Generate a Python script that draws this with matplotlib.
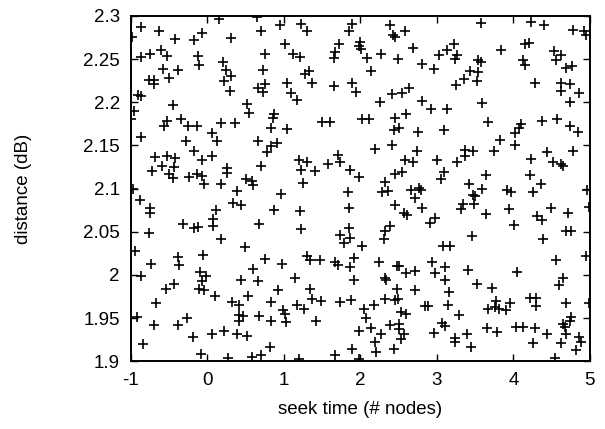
import matplotlib
matplotlib.use("Agg")
import matplotlib.pyplot as plt

plt.rcParams['font.family'] = ['Liberation Sans', 'DejaVu Sans']

seek_time = [
    # top band
    0.146, 0.643, -0.869, -0.629, -0.987, -0.424, -0.072, -0.180, 0.312, 0.700, 0.952,
    -0.869, -0.751, -0.607, -0.533, -0.128, -0.106, 0.199, 0.756, -0.577, -0.390, 0.242,
    -0.499, 0.308, 0.220, 0.721, -0.760, -0.695, -0.695, 0.294, 0.656, 0.756, 0.721,
    -0.908, -0.865,
    1.222, 1.301, 1.889, 1.845, 2.381, 2.425, 2.455, 2.586, 1.009, 1.118, 1.214, 1.723,
    1.671, 1.649, 1.989, 1.976, 2.011, 2.085, 2.272, 2.490, 2.682, 3.022, 2.804, 2.961,
    2.137, 1.270, 1.323, 1.035, 1.366, 1.658, 1.889, 1.941, 1.092, 2.412, 2.543, 2.630,
    3.579, 4.224, 4.399, 4.778, 4.917, 4.952, 3.135, 3.222, 3.261, 3.231, 3.832, 3.536,
    3.571, 3.436, 3.536, 4.155, 4.202, 4.124, 4.155, 4.529, 4.616, 4.560, 4.682, 4.769,
    3.353, 3.253, 3.523, 4.277, 4.616, 4.616, 4.743, 4.852,
    # second band
    -0.455, -0.956, -1.000, -0.869, -0.529, -0.564, -0.346, -0.250, -0.137, 0.177, 0.360,
    0.512, 0.547, 0.874, 0.852, 0.830, -0.281, -0.180, 0.059, 0.125, -0.072, 0.055, 0.656,
    0.830, 0.905, 0.778, -0.682, -0.533, -0.420, -0.594, -0.442, -0.725, -0.507, -0.455,
    -0.246, -0.137, -0.072, -0.041, 0.255, 0.255, 0.177, 0.700, 0.504, 0.582, 0.591,
    1.170, 2.259, 2.804, 2.926, 2.595, 2.447, 1.035, 1.497, 1.606, 2.020, 2.107, 2.434,
    2.499, 2.752, 2.412, 2.185, 2.739, 1.706, 1.192, 1.301, 1.575, 1.728, 2.577, 2.682,
    3.000, 1.222, 1.410, 1.859, 1.976, 2.455, 2.543, 1.244, 2.316,
    3.593, 3.135, 4.734, 3.667, 3.091, 4.094, 4.072, 4.015, 4.377, 4.573, 4.734, 4.843,
    3.819, 4.024, 3.370, 3.370, 3.471, 3.261, 3.745, 4.233, 4.438, 4.516, 4.625, 4.647,
    4.778, 3.087, 3.048, 3.645, 4.211, 3.414, 4.364,
    # third band
    -0.980, 0.382, 0.961, -0.882, -0.751, -0.751, 0.111, 0.338, 0.438, 0.874, -0.316,
    -0.172, -0.128, 0.068, 0.068, 0.678, -0.760, 0.177, 0.495, -0.943, -0.390, -0.377,
    -0.054, 0.756, -0.738, 0.591, 0.974, -0.098,
    1.837, 2.281, 2.360, 2.665, 2.761, 2.795, 2.717, 2.804, 2.455, 2.564, 2.608, 1.214,
    1.845, 2.970, 2.904, 1.222, 1.845, 1.737, 1.780, 1.867, 2.390, 2.316, 2.303, 2.020,
    1.301, 1.344, 1.475, 1.662, 1.706, 1.911, 1.867, 2.246, 2.477, 2.508, 2.717, 2.935,
    2.595, 2.970,
    3.593, 3.471, 3.501, 3.919, 3.963, 4.255, 4.965, 4.983, 3.340, 3.309, 3.484, 3.636,
    3.937, 4.311, 4.372, 4.494, 4.712, 4.006, 3.462, 3.078, 3.166, 4.386, 4.682, 4.747,
    4.952, 4.551, 3.109, 3.405, 4.050,
    # bottom band
    -0.869, -0.019, -0.072, 0.438, 0.665, -0.433, -0.542, -0.115, -0.041, 0.103, -0.673,
    0.321, 0.416, 0.525, 0.830, 0.918, -0.926, -0.695, -0.390, -0.272, 0.408, 0.460,
    0.416, 0.669, 0.830, -0.185, 0.059, 0.212, 0.386, 0.512, -0.838, 0.817, -0.085,
    0.264, 0.582, 0.700,
    1.140, 1.911, 2.325, 2.333, 1.336, 2.477, 2.708, 1.366, 1.488, 1.737, 1.880, 2.316,
    2.455, 2.486, 1.170, 1.266, 0.987, 1.018, 1.026, 2.042, 2.172, 2.848, 2.878, 2.534,
    2.599, 1.418, 2.076, 2.381, 2.508, 2.499, 1.985, 2.142, 2.272, 2.564, 2.534, 2.965,
    2.185, 2.203, 1.889, 2.434, 1.671, 1.985, 1.192,
    3.109, 3.527, 3.723, 4.647, 4.590, 3.152, 3.144, 3.288, 3.070, 3.100, 3.776, 3.762,
    3.810, 3.667, 3.906, 3.950, 4.211, 4.298, 4.298, 4.691, 4.983, 4.756, 4.734, 4.647,
    4.669, 4.691, 3.658, 3.789, 4.037, 4.124, 4.277, 3.396, 3.231, 3.231, 3.440, 4.255,
    4.442, 4.625, 4.852, 4.878, 4.821, 4.547,
]

distance = [
    # top band
    2.296, 2.299, 2.287, 2.282, 2.275, 2.273, 2.280, 2.272, 2.274, 2.282, 2.289,
    2.252, 2.256, 2.261, 2.254, 2.253, 2.243, 2.247, 2.256, 2.238, 2.237, 2.237,
    2.228, 2.230, 2.225, 2.237, 2.226, 2.226, 2.221, 2.213, 2.217, 2.221, 2.212,
    2.208, 2.207,
    2.291, 2.282, 2.291, 2.283, 2.290, 2.278, 2.276, 2.282, 2.267, 2.256, 2.252, 2.268,
    2.258, 2.251, 2.270, 2.265, 2.262, 2.251, 2.256, 2.250, 2.263, 2.255, 2.244, 2.239,
    2.236, 2.233, 2.236, 2.222, 2.222, 2.219, 2.222, 2.212, 2.211, 2.210, 2.211, 2.217,
    2.292, 2.293, 2.290, 2.284, 2.282, 2.278, 2.261, 2.267, 2.255, 2.250, 2.260, 2.249,
    2.246, 2.236, 2.235, 2.268, 2.269, 2.249, 2.243, 2.259, 2.255, 2.249, 2.240, 2.242,
    2.227, 2.220, 2.224, 2.222, 2.222, 2.213, 2.221, 2.211,
    # second band
    2.197, 2.190, 2.181, 2.160, 2.178, 2.172, 2.181, 2.172, 2.172, 2.176, 2.176,
    2.198, 2.188, 2.186, 2.182, 2.170, 2.155, 2.144, 2.164, 2.155, 2.133, 2.138, 2.155,
    2.149, 2.153, 2.142, 2.137, 2.138, 2.135, 2.126, 2.125, 2.120, 2.117, 2.112,
    2.113, 2.117, 2.115, 2.105, 2.124, 2.118, 2.105, 2.126, 2.111, 2.109, 2.104,
    2.202, 2.200, 2.201, 2.192, 2.186, 2.182, 2.169, 2.177, 2.177, 2.181, 2.181, 2.168,
    2.170, 2.165, 2.151, 2.146, 2.144, 2.139, 2.133, 2.131, 2.129, 2.131, 2.133, 2.131,
    2.133, 2.122, 2.120, 2.122, 2.113, 2.117, 2.119, 2.106, 2.108,
    2.199, 2.192, 2.200, 2.177, 2.168, 2.175, 2.170, 2.164, 2.178, 2.180, 2.173, 2.165,
    2.156, 2.151, 2.145, 2.138, 2.143, 2.131, 2.143, 2.134, 2.142, 2.131, 2.128, 2.126,
    2.144, 2.119, 2.111, 2.116, 2.116, 2.105, 2.105,
    # third band
    2.100, 2.097, 2.094, 2.087, 2.077, 2.072, 2.075, 2.083, 2.081, 2.075, 2.059,
    2.054, 2.055, 2.065, 2.057, 2.059, 2.049, 2.041, 2.032, 2.028, 2.021, 2.012,
    2.023, 2.018, 2.013, 2.007, 2.013, 2.003,
    2.096, 2.096, 2.097, 2.098, 2.101, 2.098, 2.089, 2.078, 2.081, 2.072, 2.069, 2.074,
    2.078, 2.066, 2.060, 2.053, 2.054, 2.046, 2.037, 2.043, 2.057, 2.051, 2.042, 2.033,
    2.022, 2.017, 2.017, 2.015, 2.011, 2.019, 2.009, 2.015, 2.010, 2.010, 2.005, 2.015,
    2.002, 2.002,
    2.100, 2.093, 2.091, 2.098, 2.096, 2.096, 2.098, 2.079, 2.082, 2.076, 2.082, 2.070,
    2.076, 2.068, 2.064, 2.077, 2.072, 2.058, 2.045, 2.034, 2.033, 2.042, 2.051, 2.051,
    2.022, 2.017, 2.009, 2.006, 2.003,
    # bottom band
    1.999, 1.999, 1.993, 1.994, 1.993, 1.989, 1.984, 1.984, 1.982, 1.975, 1.968,
    1.969, 1.965, 1.975, 1.969, 1.982, 1.951, 1.942, 1.942, 1.950, 1.953, 1.952,
    1.947, 1.952, 1.947, 1.928, 1.931, 1.935, 1.932, 1.929, 1.920, 1.917, 1.908,
    1.904, 1.905, 1.907,
    1.996, 1.994, 1.996, 1.994, 1.984, 1.984, 1.982, 1.972, 1.970, 1.969, 1.971, 1.972,
    1.971, 1.972, 1.965, 1.960, 1.959, 1.955, 1.946, 1.960, 1.965, 1.964, 1.964, 1.957,
    1.955, 1.947, 1.950, 1.942, 1.943, 1.937, 1.935, 1.939, 1.932, 1.932, 1.926, 1.933,
    1.922, 1.911, 1.914, 1.914, 1.907, 1.903, 1.903,
    1.994, 1.989, 1.985, 1.996, 1.988, 1.980, 1.965, 1.954, 1.944, 1.941, 1.970, 1.963,
    1.961, 1.961, 1.959, 1.968, 1.973, 1.973, 1.964, 1.967, 1.967, 1.951, 1.947, 1.943,
    1.940, 1.932, 1.939, 1.934, 1.940, 1.940, 1.939, 1.932, 1.927, 1.922, 1.916, 1.921,
    1.932, 1.921, 1.928, 1.922, 1.913, 1.904,
]

x_ticks = [-1, 0, 1, 2, 3, 4, 5]
x_tick_labels = ['-1', '0', '1', '2', '3', '4', '5']
y_ticks = [1.9, 1.95, 2.0, 2.05, 2.1, 2.15, 2.2, 2.25, 2.3]
y_tick_labels = ['1.9', '1.95', '2', '2.05', '2.1', '2.15', '2.2', '2.25', '2.3']

n = min(len(seek_time), len(distance))

fig = plt.figure(figsize=(6.05, 4.29), dpi=100)
ax = fig.add_axes([0.2165, 0.158, 0.7585, 0.805])
ax.plot(seek_time[:n], distance[:n], linestyle='none', marker='+',
        markersize=6.5, markeredgewidth=1.2, color='black')

ax.set_xlim(-1, 5)
ax.set_ylim(1.9, 2.3)
ax.set_xticks(x_ticks)
ax.set_xticklabels(x_tick_labels)
ax.set_yticks(y_ticks)
ax.set_yticklabels(y_tick_labels)
ax.tick_params(direction='in', top=True, right=True, length=5, width=1.0,
               labelsize=13.5, pad=8)
for s in ax.spines.values():
    s.set_linewidth(1.4)

ax.set_xlabel('seek time (# nodes)', fontsize=13.5)
ax.set_ylabel('distance (dB)', fontsize=13.5)
ax.xaxis.set_label_coords(0.5, -0.115)
ax.yaxis.set_label_coords(-0.215, 0.5)

fig.savefig('out.png', dpi=100)
